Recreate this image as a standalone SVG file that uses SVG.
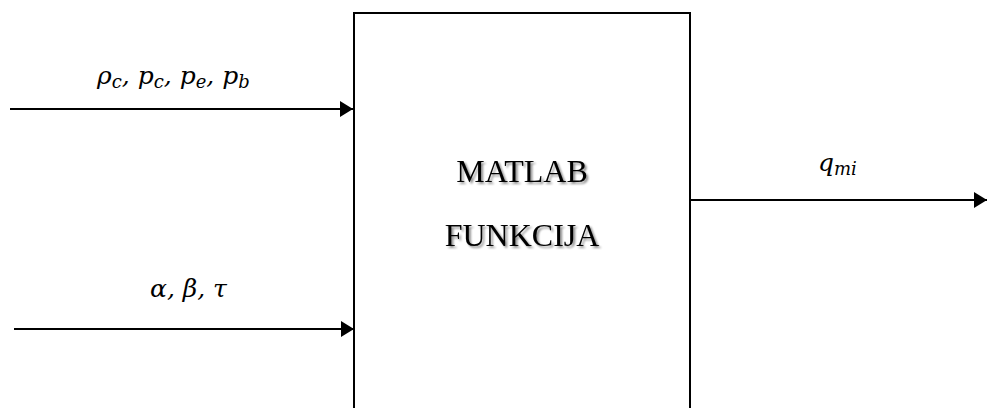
<svg xmlns="http://www.w3.org/2000/svg" width="987" height="408" viewBox="0 0 987 408">
<style>
.box{fill:#fff;stroke:#000;stroke-width:2}
.wire{stroke:#000;stroke-width:2;fill:none}
.math{font-family:"DejaVu Serif","Liberation Serif",serif;font-style:italic;font-size:25px;fill:#000}
.sub{font-size:18px}
.title{font-family:"Liberation Serif","Times New Roman",serif;font-size:32px;fill:#000;text-anchor:middle}
</style>
<defs>
<marker id="arr" markerWidth="14" markerHeight="16" refX="13" refY="8" orient="auto" markerUnits="userSpaceOnUse">
<path d="M0,0 L13,8 L0,16 Z" fill="#000"/>
</marker>
<filter id="sh" x="-10%" y="-20%" width="130%" height="150%">
<feGaussianBlur in="SourceAlpha" stdDeviation="1"/>
<feOffset dx="2" dy="2" result="b"/>
<feComponentTransfer in="b" result="c"><feFuncA type="linear" slope="0.45"/></feComponentTransfer>
<feMerge><feMergeNode in="c"/><feMergeNode in="SourceGraphic"/></feMerge>
</filter>
</defs>
<g id="matlab">
<rect class="box" x="354" y="13" width="336" height="410"/>
<g filter="url(#sh)">
<text class="title" x="522" y="182">MATLAB</text>
<text class="title" x="522" y="246">FUNKCIJA</text>
</g>
</g>
<g id="connectors">
<line class="wire" x1="10" y1="109" x2="353" y2="109" marker-end="url(#arr)"/>
<line class="wire" x1="14" y1="329" x2="354" y2="329" marker-end="url(#arr)"/>
<line class="wire" x1="690" y1="200" x2="987" y2="200" marker-end="url(#arr)"/>
</g>
<g id="labels">
<text class="math" x="97" y="84">ρ<tspan class="sub" dy="4">c</tspan><tspan dy="-4">, p</tspan><tspan class="sub" dy="4">c</tspan><tspan dy="-4">, p</tspan><tspan class="sub" dy="4">e</tspan><tspan dy="-4">, p</tspan><tspan class="sub" dy="4">b</tspan></text>
<text class="math" x="150" y="297">α, β, τ</text>
<text class="math" x="818" y="171">q<tspan class="sub" dy="4">mi</tspan></text>
</g>
</svg>
